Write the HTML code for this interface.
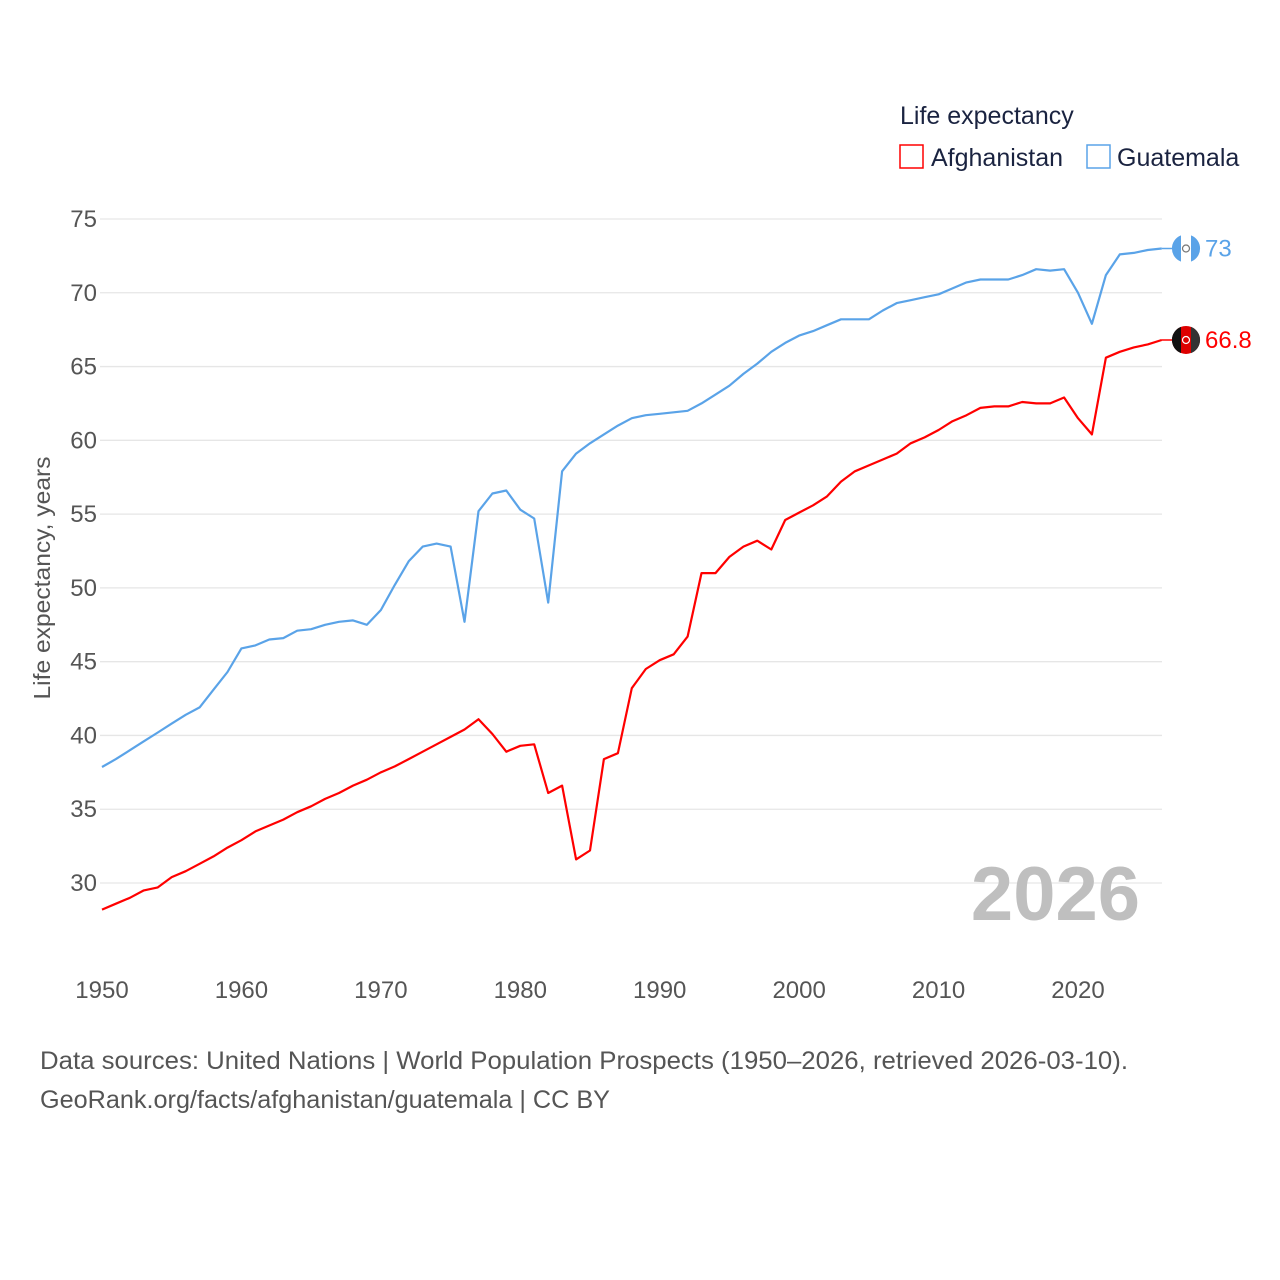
<!DOCTYPE html>
<html><head><meta charset="utf-8">
<style>
body{margin:0;background:#fff;}
svg{display:block;font-family:"Liberation Sans",sans-serif;}
</style></head>
<body>
<svg id="chart" width="1280" height="1280" viewBox="0 0 1280 1280">
  <g id="grid"></g>
  <g id="yticks"></g>
  <g id="xticks"></g>
  <text transform="translate(50,578) rotate(-90)" text-anchor="middle" font-size="23" fill="#555" textLength="243" lengthAdjust="spacingAndGlyphs">Life expectancy, years</text>
  <text x="1140" y="920" text-anchor="end" font-size="76" font-weight="bold" fill="#bfbfbf">2026</text>
  <g id="series"></g>
  <g>
    <text x="900" y="124" font-size="25" fill="#1a2340">Life expectancy</text>
    <rect x="900" y="145" width="23" height="23" fill="none" stroke="#f00" stroke-width="1.5"/>
    <text x="931" y="166" font-size="25" fill="#1a2340">Afghanistan</text>
    <rect x="1087" y="145" width="23" height="23" fill="none" stroke="#5aa3e8" stroke-width="1.5"/>
    <text x="1117" y="166" font-size="25" fill="#1a2340">Guatemala</text>
  </g>
  <text x="40" y="1069" font-size="25" fill="#555" textLength="1088" lengthAdjust="spacingAndGlyphs">Data sources: United Nations | World Population Prospects (1950–2026, retrieved 2026-03-10).</text>
  <text x="40" y="1108" font-size="25" fill="#555" textLength="570" lengthAdjust="spacingAndGlyphs">GeoRank.org/facts/afghanistan/guatemala | CC BY</text>
</svg>
<script>
const years = [];
for (let y = 1950; y <= 2026; y++) years.push(y);
const guatemala = [37.86,38.4,39.0,39.6,40.2,40.8,41.4,41.9,43.1,44.3,45.9,46.1,46.5,46.6,47.1,47.2,47.5,47.7,47.8,47.5,48.5,50.2,51.8,52.8,53.0,52.8,47.7,55.2,56.4,56.6,55.3,54.7,49.0,57.9,59.1,59.8,60.4,61.0,61.5,61.7,61.8,61.9,62.0,62.5,63.1,63.7,64.5,65.2,66.0,66.6,67.1,67.4,67.8,68.2,68.2,68.2,68.8,69.3,69.5,69.7,69.9,70.3,70.7,70.9,70.9,70.9,71.2,71.6,71.5,71.6,70.0,67.9,71.2,72.6,72.7,72.9,73.0];
const afghanistan = [28.2,28.6,29.0,29.5,29.7,30.4,30.8,31.3,31.8,32.4,32.9,33.5,33.9,34.3,34.8,35.2,35.7,36.1,36.6,37.0,37.5,37.9,38.4,38.9,39.4,39.9,40.4,41.1,40.1,38.9,39.3,39.4,36.1,36.6,31.6,32.2,38.4,38.8,43.2,44.5,45.1,45.5,46.7,51.0,51.0,52.1,52.8,53.2,52.6,54.6,55.1,55.6,56.2,57.2,57.9,58.3,58.7,59.1,59.8,60.2,60.7,61.3,61.7,62.2,62.3,62.3,62.6,62.5,62.5,62.9,61.5,60.4,65.6,66.0,66.3,66.5,66.8];
const yTicks = [30,35,40,45,50,55,60,65,70,75];
const xTicks = [1950,1960,1970,1980,1990,2000,2010,2020];
const endLabels = ["73","66.8"];

const NS = "http://www.w3.org/2000/svg";
const xScale = yr => 102 + (yr - 1950) * (976 / 70);
const yScale = v => 883 - (v - 30) * (664 / 45);
function mk(tag, attrs, parent, text) {
  const e = document.createElementNS(NS, tag);
  for (const k in attrs) e.setAttribute(k, attrs[k]);
  if (text !== undefined) e.textContent = text;
  parent.appendChild(e);
  return e;
}
const grid = document.getElementById('grid'), yt = document.getElementById('yticks'), xt = document.getElementById('xticks'), ser = document.getElementById('series');
yTicks.forEach(v => {
  const l = mk('line', {x1: 100, x2: 1162, y1: yScale(v), y2: yScale(v), stroke: '#e6e6e6', 'stroke-width': 1.3}, grid);
  
  
  const t = mk('text', {x: 97, y: yScale(v) + 8, 'text-anchor': 'end', 'font-size': 24, fill: '#555'}, yt, String(v));
  
  
});
xTicks.forEach(v => {
  const t = mk('text', {x: xScale(v), y: 998, 'text-anchor': 'middle', 'font-size': 24, fill: '#555'}, xt, String(v));
  
  
});
function line(data, color, name) {
  const d = data.map((v, i) => (i ? 'L' : 'M') + xScale(years[i]).toFixed(1) + ',' + yScale(v).toFixed(1)).join('');
  const p = mk('path', {d: d, fill: 'none', stroke: color, 'stroke-width': 2.2, 'stroke-linejoin': 'round'}, ser);
  
  
}
line(guatemala, '#5aa3e8', 'line-guatemala');
line(afghanistan, '#f00', 'line-afghanistan');
function endMarker(data, color, label, name, flagColors) {
  const v = data[data.length - 1];
  const cy = yScale(v), cx = 1186;
  mk('line', {x1: xScale(years[years.length - 1]), x2: cx, y1: cy, y2: cy, stroke: color, 'stroke-width': 1.5}, ser);
  const g = mk('g', {}, ser);
  
  
  mk('circle', {cx: cx, cy: cy, r: 14, fill: flagColors[1]}, g);
  mk('path', {d: `M${cx-5},${cy-13.1} A14,14 0 0 0 ${cx-5},${cy+13.1} Z`, fill: flagColors[0]}, g);
  mk('path', {d: `M${cx+5},${cy-13.1} A14,14 0 0 1 ${cx+5},${cy+13.1} Z`, fill: flagColors[2]}, g);
  mk('circle', {cx: cx, cy: cy, r: 3.5, fill: 'none', stroke: flagColors[3], 'stroke-width': 1.2}, g);
  const t = mk('text', {x: 1205, y: cy + 8, 'font-size': 24, fill: color}, ser, label);
  
  
}
endMarker(guatemala, '#5aa3e8', endLabels[0], 'guatemala', ['#5aa3e8', '#fff', '#5aa3e8', '#777']);
endMarker(afghanistan, '#f00', endLabels[1], 'afghanistan', ['#111', '#d00', '#333', '#fff']);
</script>
</body></html>
